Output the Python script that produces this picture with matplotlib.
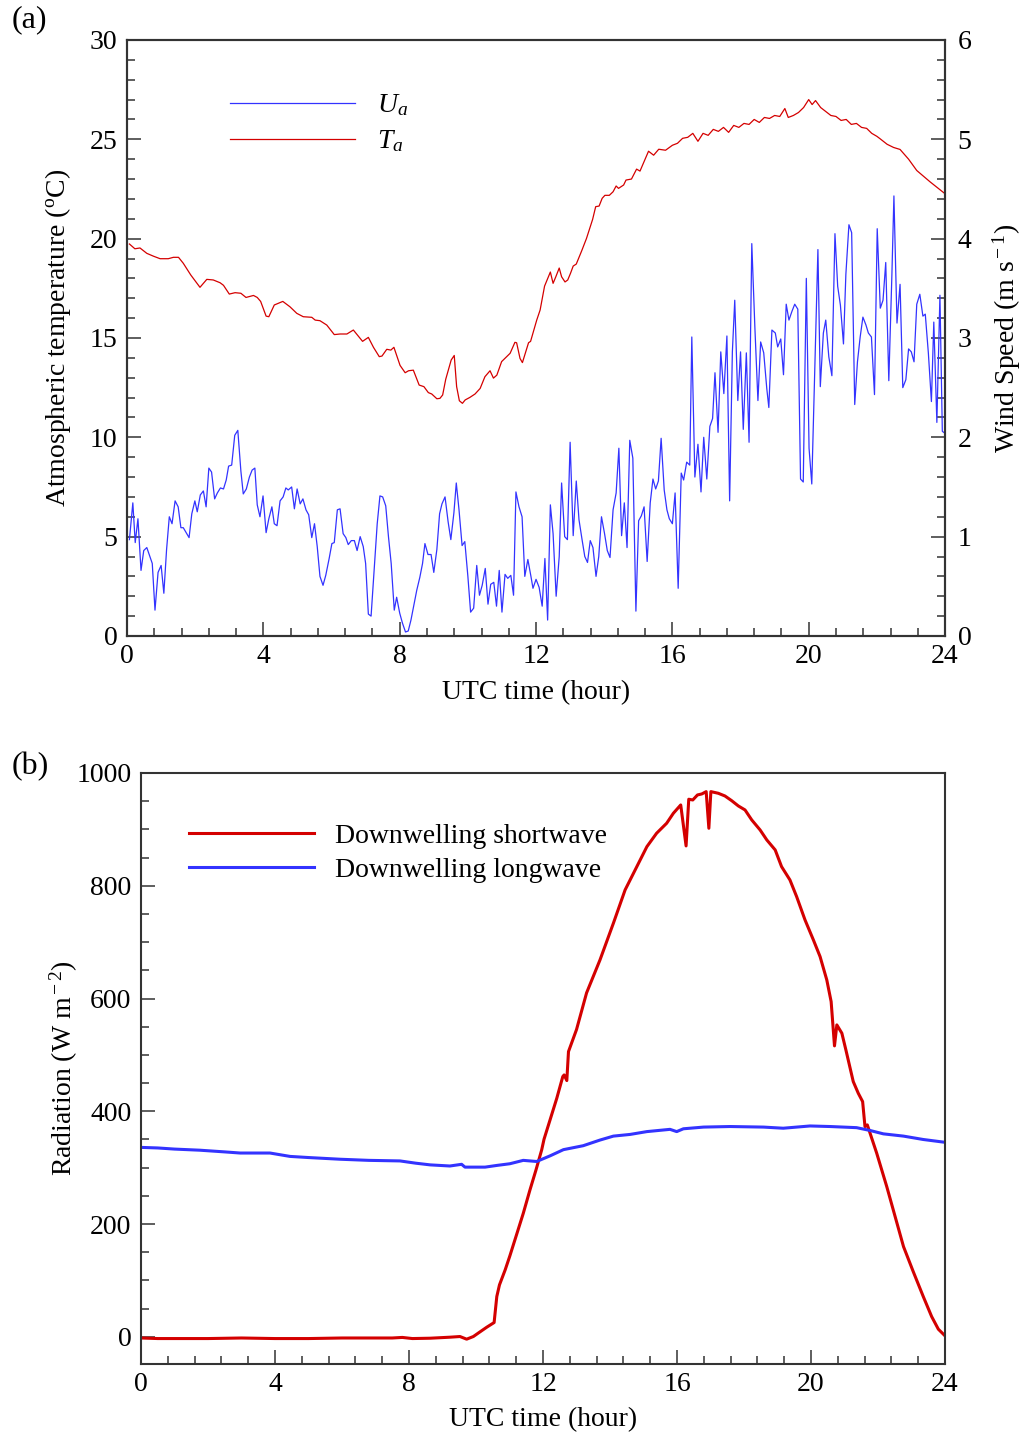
import numpy as np
import matplotlib.pyplot as plt
from matplotlib.ticker import MultipleLocator

plt.rcParams['font.family'] = ['Liberation Serif', 'DejaVu Serif']
plt.rcParams['mathtext.fontset'] = 'custom'
plt.rcParams['mathtext.rm'] = 'Liberation Serif'
plt.rcParams['mathtext.it'] = 'Liberation Serif:italic'
plt.rcParams['font.size'] = 20

# (a) wind speed, m/s
wind_hour = [0.07, 0.17, 0.24, 0.32, 0.41, 0.49, 0.58, 0.74, 0.82, 0.91, 1.00, 1.08, 1.16, 1.24, 1.32,
             1.41, 1.50, 1.58, 1.65, 1.82, 1.90, 1.99, 2.06, 2.15, 2.24, 2.32, 2.40, 2.48, 2.57, 2.65,
             2.74, 2.83, 2.91, 2.98, 3.07, 3.16, 3.25, 3.34, 3.41, 3.50, 3.59, 3.67, 3.75, 3.82, 3.90,
             3.99, 4.08, 4.16, 4.25, 4.32, 4.40, 4.49, 4.58, 4.66, 4.73, 4.83, 4.91, 4.99, 5.08, 5.16,
             5.25, 5.33, 5.42, 5.50, 5.58, 5.66, 5.75, 5.83, 5.93, 6.01, 6.08, 6.17, 6.25, 6.34, 6.42,
             6.49, 6.58, 6.67, 6.75, 6.84, 6.93, 7.00, 7.08, 7.16, 7.25, 7.34, 7.42, 7.50, 7.59, 7.67,
             7.75, 7.84, 7.91, 8.00, 8.08, 8.17, 8.25, 8.33, 8.41, 8.50, 8.59, 8.67, 8.74, 8.83, 8.92,
             9.00, 9.09, 9.17, 9.24, 9.33, 9.42, 9.50, 9.59, 9.66, 9.74, 9.83, 9.91, 10.00, 10.08, 10.17,
             10.26, 10.34, 10.42, 10.51, 10.59, 10.67, 10.76, 10.84, 10.92, 11.00, 11.09, 11.17, 11.26,
             11.34, 11.41, 11.50, 11.59, 11.67, 11.76, 11.85, 11.91, 12.00, 12.09, 12.18, 12.26, 12.34,
             12.42, 12.50, 12.59, 12.68, 12.75, 12.84, 12.92, 13.00, 13.09, 13.18, 13.26, 13.35, 13.43,
             13.51, 13.59, 13.67, 13.76, 13.84, 13.92, 14.01, 14.09, 14.17, 14.26, 14.35, 14.43, 14.51,
             14.59, 14.67, 14.75, 14.84, 14.93, 15.01, 15.09, 15.17, 15.26, 15.35, 15.43, 15.51, 15.59,
             15.67, 15.76, 15.84, 15.91, 16.00, 16.08, 16.17, 16.26, 16.33, 16.42, 16.51, 16.57, 16.66,
             16.75, 16.84, 16.92, 17.01, 17.10, 17.18, 17.25, 17.34, 17.42, 17.51, 17.60, 17.68, 17.76,
             17.83, 17.92, 18.00, 18.08, 18.17, 18.25, 18.33, 18.42, 18.51, 18.59, 18.68, 18.77, 18.83,
             18.92, 19.02, 19.09, 19.18, 19.26, 19.34, 19.42, 19.51, 19.59, 19.68, 19.76, 19.84, 19.93,
             20.01, 20.09, 20.18, 20.27, 20.34, 20.43, 20.50, 20.59, 20.68, 20.77, 20.85, 20.93, 21.02,
             21.09, 21.18, 21.26, 21.35, 21.43, 21.51, 21.59, 21.68, 21.75, 21.84, 21.93, 22.01, 22.10,
             22.18, 22.26, 22.35, 22.44, 22.50, 22.59, 22.68, 22.76, 22.85, 22.93, 23.01, 23.09, 23.17,
             23.26, 23.35, 23.42, 23.51, 23.60, 23.67, 23.76, 23.85, 23.92, 24.00]
wind_speed = [0.97, 1.34, 0.94, 1.18, 0.66, 0.86, 0.89, 0.73, 0.26, 0.64, 0.71, 0.43, 0.87, 1.20, 1.13,
              1.36, 1.30, 1.09, 1.09, 0.99, 1.23, 1.36, 1.25, 1.42, 1.46, 1.30, 1.69, 1.65, 1.38, 1.44,
              1.49, 1.48, 1.57, 1.71, 1.72, 2.02, 2.07, 1.66, 1.43, 1.48, 1.60, 1.67, 1.69, 1.32, 1.20,
              1.41, 1.04, 1.18, 1.30, 1.13, 1.11, 1.36, 1.40, 1.49, 1.47, 1.50, 1.28, 1.48, 1.33, 1.38,
              1.27, 1.22, 0.99, 1.13, 0.90, 0.60, 0.51, 0.61, 0.78, 0.93, 0.94, 1.27, 1.28, 1.03, 0.99,
              0.92, 0.96, 0.96, 0.86, 1.00, 0.90, 0.73, 0.22, 0.20, 0.66, 1.13, 1.41, 1.40, 1.31, 1.00,
              0.73, 0.26, 0.39, 0.23, 0.13, 0.04, 0.05, 0.16, 0.30, 0.46, 0.59, 0.73, 0.93, 0.82, 0.82,
              0.64, 0.87, 1.23, 1.33, 1.40, 1.15, 0.97, 1.24, 1.54, 1.27, 0.91, 0.95, 0.60, 0.24, 0.28,
              0.71, 0.41, 0.51, 0.68, 0.32, 0.52, 0.54, 0.30, 0.66, 0.24, 0.62, 0.58, 0.61,
              0.41, 1.45, 1.30, 1.20, 0.60, 0.77, 0.60, 0.48, 0.57, 0.49, 0.30, 0.78, 0.16,
              1.32, 1.03, 0.40, 0.80, 1.54, 1.00, 0.97, 1.95, 1.01, 1.56, 1.17, 0.97, 0.80,
              0.74, 0.96, 0.89, 0.60, 0.80, 1.20, 1.03, 0.86, 0.79, 1.27, 1.44, 1.89, 1.01,
              1.34, 0.89, 1.97, 1.79, 0.25, 1.16, 1.21, 1.30, 0.75, 1.34, 1.58, 1.48, 1.56,
              1.99, 1.47, 1.27, 1.18, 1.13, 1.44, 0.48, 1.64, 1.57, 1.75, 1.72, 3.01, 1.60,
              1.93, 1.45, 2.00, 1.58, 2.11, 2.19, 2.65, 2.05, 2.86, 2.44, 3.02, 1.36, 2.86,
              3.38, 2.37, 2.86, 2.08, 2.85, 1.95, 3.95, 3.11, 2.37, 2.96, 2.85, 2.49, 2.30,
              3.08, 3.05, 2.91, 2.99, 2.63, 3.34, 3.18, 3.27, 3.34, 3.29, 1.58, 1.55, 3.60,
              1.89, 1.53, 2.71, 3.89, 2.51, 3.05, 3.18, 2.81, 2.62, 4.05, 3.52, 3.33, 2.94,
              3.64, 4.14, 4.06, 2.33, 2.76, 3.01, 3.21, 3.13, 3.05, 3.01, 2.43, 4.10, 3.30,
              3.38, 3.76, 2.57, 3.63, 4.43, 3.15, 3.54, 2.50, 2.58, 2.89, 2.86, 2.76, 3.34,
              3.44, 3.22, 3.24, 2.85, 2.36, 3.16, 2.15, 3.43, 2.06, 2.04]

# (a) air temperature, deg C
temp_hour = [0.07, 0.23, 0.38, 0.58, 0.77, 0.97, 1.21, 1.36, 1.51, 1.65, 1.87, 2.02, 2.14, 2.34, 2.53,
             2.73, 2.83, 3.00, 3.17, 3.34, 3.49, 3.71, 3.82, 3.92, 4.08, 4.16, 4.32, 4.57, 4.78, 4.98,
             5.17, 5.42, 5.52, 5.66, 5.86, 6.08, 6.25, 6.45, 6.64, 6.91, 7.08, 7.23, 7.40, 7.48, 7.62,
             7.74, 7.83, 8.01, 8.16, 8.26, 8.40, 8.57, 8.71, 8.84, 8.94, 9.09, 9.18, 9.26, 9.35, 9.51,
             9.60, 9.67, 9.75, 9.84, 9.92, 10.06, 10.21, 10.36, 10.50, 10.65, 10.75, 10.85, 10.99, 11.24,
             11.38, 11.43, 11.53, 11.60, 11.78, 11.84, 12.02, 12.12, 12.25, 12.33, 12.42, 12.50, 12.58,
             12.68, 12.75, 12.85, 12.93, 13.01, 13.09, 13.18, 13.34, 13.48, 13.58, 13.66, 13.75, 13.85,
             13.94, 14.02, 14.15, 14.26, 14.35, 14.42, 14.57, 14.64, 14.80, 14.95, 15.05, 15.20, 15.30,
             15.45, 15.60, 15.80, 16.00, 16.15, 16.30, 16.45, 16.60, 16.75, 16.90, 17.05, 17.20, 17.35,
             17.50, 17.65, 17.80, 17.95, 18.10, 18.25, 18.40, 18.55, 18.70, 18.85, 19.00, 19.15, 19.30,
             19.40, 19.55, 19.70, 19.85, 20.00, 20.10, 20.20, 20.35, 20.50, 20.65, 20.80, 20.95, 21.10,
             21.25, 21.40, 21.55, 21.70, 21.85, 22.00, 22.10, 22.30, 22.49, 22.68, 22.93, 23.17, 23.56,
             24.00]
temp_air = [19.73, 19.49, 19.53, 19.26, 19.12, 18.99, 18.99, 19.06, 19.06, 18.76, 18.17, 17.83, 17.55,
            17.95, 17.92, 17.78, 17.65, 17.21, 17.28, 17.25, 17.04, 17.14, 17.04, 16.84, 16.10, 16.07,
            16.66, 16.84, 16.57, 16.24, 16.07, 16.04, 15.90, 15.87, 15.65, 15.17, 15.20, 15.20, 15.40,
            14.83, 15.03, 14.53, 14.06, 14.09, 14.43, 14.39, 14.53, 13.62, 13.25, 13.35, 13.38, 12.63,
            12.55, 12.25, 12.18, 11.94, 11.96, 12.13, 12.92, 13.89, 14.12, 12.55, 11.84, 11.71, 11.88,
            12.01, 12.18, 12.46, 13.05, 13.35, 12.98, 13.13, 13.81, 14.23, 14.78, 14.76, 13.97, 13.76,
            14.76, 14.83, 15.90, 16.41, 17.61, 17.95, 18.32, 17.75, 18.08, 18.52, 18.08, 17.82, 17.92,
            18.25, 18.62, 18.72, 19.39, 20.01, 20.55, 20.97, 21.61, 21.64, 22.03, 22.18, 22.18, 22.36,
            22.65, 22.53, 22.70, 22.95, 23.00, 23.50, 23.40, 24.00, 24.40, 24.20, 24.50, 24.45, 24.70,
            24.80, 25.05, 25.10, 25.30, 24.90, 25.30, 25.20, 25.50, 25.40, 25.60, 25.35, 25.70, 25.60,
            25.80, 25.75, 26.00, 25.85, 26.10, 26.05, 26.20, 26.15, 26.55, 26.10, 26.20, 26.35, 26.60,
            27.00, 26.75, 26.95, 26.60, 26.40, 26.20, 26.15, 25.95, 26.00, 25.75, 25.80, 25.60, 25.55,
            25.30, 25.15, 25.02, 24.75, 24.59, 24.49, 24.00, 23.43, 22.86, 22.26]

# (b) downwelling shortwave, W m-2
sw_hour = [0.00, 0.50, 1.00, 2.00, 3.00, 4.00, 5.00, 6.00, 7.00, 7.50, 7.80, 8.10, 8.63, 9.22, 9.52,
           9.72, 9.92, 10.12, 10.32, 10.54, 10.62, 10.70, 10.87, 11.01, 11.23, 11.41, 11.61, 11.79,
           11.96, 12.03, 12.21, 12.41, 12.59, 12.63, 12.71, 12.76, 13.00, 13.30, 13.70, 14.10, 14.45,
           14.80, 15.10, 15.39, 15.69, 15.89, 16.11, 16.27, 16.35, 16.47, 16.61, 16.74, 16.87, 16.95,
           17.01, 17.23, 17.43, 17.63, 17.83, 18.03, 18.23, 18.48, 18.68, 18.93, 19.12, 19.37, 19.57,
           19.82, 20.07, 20.27, 20.47, 20.60, 20.70, 20.77, 20.92, 21.04, 21.26, 21.41, 21.54, 21.61,
           21.68, 21.96, 22.26, 22.51, 22.76, 23.05, 23.35, 23.60, 23.80, 24.00]
sw_down = [-2, -3, -3, -3, -2, -3, -3, -2, -2, -2, -1, -3, -2.4, -0.6, 0.6, -4.1, 0.6, 8.9, 17.1, 25.4,
           71.5, 92.2, 118.8, 143.6, 185, 219, 260.6, 296, 331.6, 350.5, 384.8, 423, 461.6, 464.5,
           454.5, 505.9, 545, 610, 668.4, 733.5, 792.6, 833.9, 869.3, 893.1, 910.8, 928.5, 943.3,
           870.6, 953.4, 952.1, 961, 962.8, 966.9, 901.9, 966.9, 964, 959.2, 950.9, 941.5, 934.4,
           916.7, 898.9, 881.2, 863.5, 833.9, 810.3, 780.7, 739.4, 703.9, 674.3, 633, 594.5, 516,
           553.2, 538.5, 508.9, 452.7, 432, 417.2, 372.9, 375.9, 325.7, 266.5, 213.3, 160.1, 115.8,
           71.5, 36, 13.6, 1.8]

# (b) downwelling longwave, W m-2
lw_hour = [0.00, 0.50, 1.00, 1.76, 2.50, 2.96, 3.85, 4.45, 5.00, 5.94, 6.80, 7.73, 8.20, 8.63, 9.22,
           9.57, 9.67, 10.27, 10.62, 11.01, 11.41, 11.81, 12.21, 12.61, 13.20, 13.70, 14.10, 14.60,
           15.10, 15.79, 15.99, 16.19, 16.79, 17.58, 18.58, 19.17, 19.97, 20.57, 21.36, 21.76, 22.16,
           22.76, 23.35, 24.00]
lw_down = [336, 335, 333, 331, 328, 326, 326, 320, 318, 315, 313, 312, 308, 305, 303, 306, 301, 301,
           304, 307, 313, 311, 321, 332, 339, 349, 356, 359, 364, 368, 364, 369, 372, 373, 372, 370,
           374, 373, 371, 366, 360, 356, 350, 345]

blue = '#3333ff'
red = '#d40000'
frame = '#333333'


def style_axes(ax):
    for s in ax.spines.values():
        s.set_color(frame)
        s.set_linewidth(1.5)
    ax.tick_params(which='both', direction='in', color=frame, width=1.1, top=False)
    ax.tick_params(which='major', length=10)
    ax.tick_params(which='minor', length=6)
    ax.tick_params(axis='x', pad=6)
    ax.tick_params(axis='y', pad=7)
    ax.xaxis.set_major_locator(MultipleLocator(4))
    ax.xaxis.set_minor_locator(MultipleLocator(0.8))
    ax.set_xlim(0, 24)


fig = plt.figure(figsize=(10.27, 14.33), dpi=100)

# ---- panel (a)
ax1 = fig.add_axes([0.1237, 0.5562, 0.7965, 0.4159])
ax2 = ax1.twinx()
style_axes(ax1)
style_axes(ax2)
ax1.set_ylim(0, 30)
ax1.yaxis.set_major_locator(MultipleLocator(5))
ax1.yaxis.set_minor_locator(MultipleLocator(1))
ax2.set_ylim(0, 6)
ax2.yaxis.set_major_locator(MultipleLocator(1))
ax2.yaxis.set_minor_locator(MultipleLocator(0.2))
ax1.tick_params(right=False)
ax2.tick_params(left=False, bottom=False)
ax2.tick_params(axis='y', pad=9)

lu, = ax2.plot(wind_hour, wind_speed, color=blue, lw=0.9)
lt, = ax1.plot(temp_hour, temp_air, color=red, lw=0.9)
ax1.set_xlabel('UTC time (hour)', labelpad=8)
ax1.set_ylabel('Atmospheric temperature ($^{\\rm o}$C)', labelpad=12)
ax2.set_ylabel('Wind Speed (m s$^{\\rm -1}$)', labelpad=14)
ax2.legend([lu, lt], ['$U_a$', '$T_a$'], loc='upper left', bbox_to_anchor=(0.126, 0.912),
           frameon=False, handlelength=4.5, handletextpad=0.8, labelspacing=0.36,
           borderpad=0, borderaxespad=0)
fig.text(0.011, 0.986, '(a)', ha='left', va='center', fontsize=23)

# ---- panel (b)
ax3 = fig.add_axes([0.1373, 0.0482, 0.7829, 0.4124])
style_axes(ax3)
ax3.set_ylim(-48, 1000)
ax3.yaxis.set_major_locator(MultipleLocator(200))
ax3.yaxis.set_minor_locator(MultipleLocator(50))
ax3.plot(sw_hour, sw_down, color=red, lw=2.2, label='Downwelling shortwave')
ax3.plot(lw_hour, lw_down, color=blue, lw=2.2, label='Downwelling longwave')
ax3.set_xlabel('UTC time (hour)', labelpad=7)
ax3.set_ylabel('Radiation (W m$^{\\rm -2}$)', labelpad=-3)
ax3.legend(loc='upper left', bbox_to_anchor=(0.06, 0.915), frameon=False, handlelength=4.5,
           handletextpad=0.75, labelspacing=0.32, borderpad=0, borderaxespad=0)
fig.text(0.011, 0.465, '(b)', ha='left', va='center', fontsize=23)

fig.savefig('out.png', dpi=100)
